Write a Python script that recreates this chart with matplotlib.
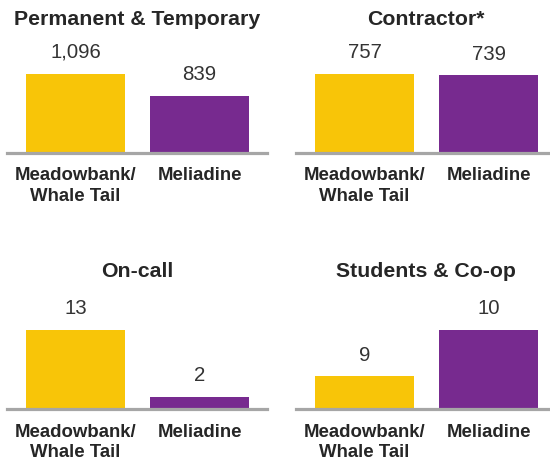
import numpy as np
import matplotlib
matplotlib.use("Agg")
import matplotlib.pyplot as plt

plt.rcParams['font.family'] = ['Liberation Sans', 'DejaVu Sans']

# data
panel_titles = ["Permanent & Temporary", "Contractor*", "On-call", "Students & Co-op"]
sites = ["Meadowbank/\nWhale Tail", "Meliadine"]
meadowbank = [1096, 757, 13, 9]
meliadine = [839, 739, 2, 10]
# lower y-limit of each panel (the source chart does not start every axis at zero)
y_floor = [185, 0, 0, 8.3]

colors = ["#F8C508", "#772A8F"]
W, H = 550, 464

fig = plt.figure(figsize=(W / 100, H / 100), dpi=100)

# panel geometry in pixels: left edge, baseline y (from top)
lefts = [7, 296, 7, 296]
baselines = [153.5, 153.5, 410, 410]
ax_w, ax_h = 260, 79

for i in range(4):
    left = lefts[i] / W
    bottom = (H - baselines[i]) / H
    ax = fig.add_axes([left, bottom, ax_w / W, ax_h / H])
    vals = [meadowbank[i], meliadine[i]]
    x = np.arange(2)
    ax.bar(x, vals, width=0.8, color=colors)
    ax.set_xlim(-0.552, 1.544)
    ax.set_ylim(y_floor[i], max(vals))
    for s in ["top", "left", "right"]:
        ax.spines[s].set_visible(False)
    ax.spines["bottom"].set_color("#A6A6A6")
    ax.spines["bottom"].set_linewidth(2.3)
    ax.set_yticks([])
    ax.set_xticks(x)
    ax.set_xticklabels(sites, fontsize=13.4, fontweight="bold", color="#262626",
                       linespacing=1.25)
    ax.tick_params(axis="x", length=0, pad=10)
    for xi, v in zip(x, vals):
        ax.annotate(f"{v:,}", (xi, v), xytext=(0, 9), textcoords="offset points",
                    ha="center", va="bottom", fontsize=14.7, color="#333333",
                    annotation_clip=False)
    title_y = 25 if i < 2 else 277
    fig.text((lefts[i] + ax_w / 2) / W, (H - title_y) / H, panel_titles[i],
             ha="center", va="baseline", fontsize=15.3, fontweight="bold",
             color="#262626")

fig.savefig("out.png", dpi=100)
